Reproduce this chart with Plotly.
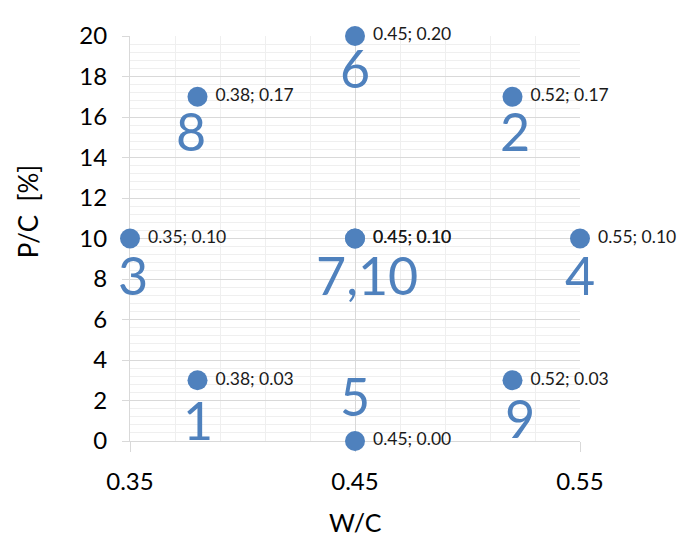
import plotly.graph_objects as go

# Data
point_ids = [1, 2, 3, 4, 5, 6, 7, 8, 9, 10]
wc = [0.38, 0.52, 0.35, 0.55, 0.45, 0.45, 0.45, 0.38, 0.52, 0.45]
pc_percent = [3, 17, 10, 10, 0, 20, 10, 17, 3, 10]

x_ticks = [0.35, 0.45, 0.55]
y_ticks = [0, 2, 4, 6, 8, 10, 12, 14, 16, 18, 20]

BLUE = "#4F81BD"
FONT = "Lato"

data_labels = [f" {x:.2f}; {y/100:.2f}" for x, y in zip(wc, pc_percent)]

fig = go.Figure()
fig.add_trace(go.Scatter(
    x=wc, y=pc_percent, mode="markers+text",
    text=data_labels, textposition="middle right",
    textfont=dict(family=FONT, size=17.5, color="#1a1a1a"),
    marker=dict(size=20, color=BLUE),
    cliponaxis=False, showlegend=False, hoverinfo="skip",
))

# group point ids by position for the big number labels
groups = {}
for pid, x, y in zip(point_ids, wc, pc_percent):
    groups.setdefault((x, y), []).append(pid)

# pixel offsets of the big labels relative to their point (style only)
offsets = {
    (0.38, 3): (0, -44),
    (0.52, 17): (2, -38),
    (0.35, 10): (3, -40),
    (0.55, 10): (0, -40),
    (0.45, 0): (0, 41),
    (0.45, 20): (0, -36),
    (0.45, 10): (12, -40),
    (0.38, 17): (-7, -38),
    (0.52, 3): (7, -42),
}

for (x, y), ids in groups.items():
    dx, dy = offsets.get((x, y), (0, -40))
    fig.add_annotation(
        x=x, y=y, xref="x", yref="y",
        text=",".join(str(i) for i in ids), showarrow=False,
        xshift=dx, yshift=dy + 4,
        font=dict(family=FONT, size=52, color=BLUE),
        xanchor="center", yanchor="middle",
    )

# axis titles
fig.add_annotation(x=0.5, y=-0.2, xref="paper", yref="paper", text="W/C",
                   showarrow=False, font=dict(family=FONT, size=25, color="#000"),
                   xanchor="center", yanchor="middle")
fig.add_annotation(x=-0.228, y=0.566, xref="paper", yref="paper", text="P/C  [%]",
                   showarrow=False, textangle=-90,
                   font=dict(family=FONT, size=26, color="#000"),
                   xanchor="center", yanchor="middle")

fig.update_layout(
    width=691, height=537,
    margin=dict(l=122, r=119, t=16, b=104),
    plot_bgcolor="white", paper_bgcolor="white",
    font=dict(family=FONT, color="#000"),
)
fig.update_xaxes(
    range=[0.35, 0.55], tickvals=x_ticks, ticktext=[f"{v:.2f}" for v in x_ticks],
    tickfont=dict(family=FONT, size=24, color="#000"),
    showgrid=True, gridcolor="#d9d9d9", gridwidth=1,
    ticks="outside", ticklen=10, tickcolor="#d9d9d9",
    ticklabelstandoff=9, layer="below traces",
    showline=True, linecolor="#d9d9d9", zeroline=False,
    minor=dict(tick0=0.35, dtick=0.02, showgrid=True, gridcolor="#efefef", ticks=""),
)
fig.update_yaxes(
    range=[0, 20], tickvals=y_ticks,
    tickfont=dict(family=FONT, size=24, color="#000"),
    showgrid=True, gridcolor="#d9d9d9", gridwidth=1,
    ticks="outside", ticklen=7, tickcolor="#d9d9d9",
    ticklabelstandoff=10, layer="below traces",
    showline=True, linecolor="#d9d9d9", zeroline=False,
    minor=dict(tick0=0, dtick=0.4, showgrid=True, gridcolor="#efefef", ticks=""),
)

fig.write_html("out.html")
